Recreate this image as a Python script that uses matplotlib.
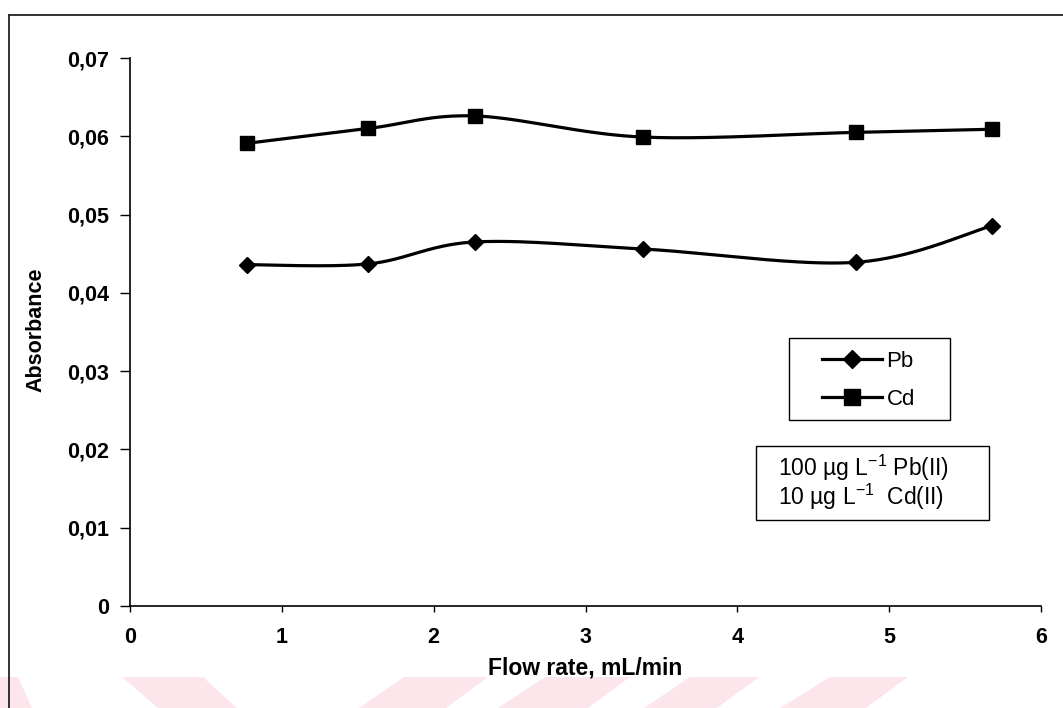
import numpy as np
import matplotlib
matplotlib.use("Agg")
from matplotlib import pyplot as plt
from matplotlib.patches import Polygon, Rectangle
from matplotlib.lines import Line2D

plt.rcParams['font.family'] = ['Liberation Sans', 'DejaVu Sans']
plt.rcParams['mathtext.default'] = 'regular'

flow_rate = [0.77, 1.57, 2.27, 3.38, 4.78, 5.68]  # mL/min
pb_abs = [0.0436, 0.0437, 0.0465, 0.0456, 0.0439, 0.0486]
cd_abs = [0.0591, 0.0610, 0.0626, 0.0599, 0.0605, 0.0609]
y_ticks = [0, 0.01, 0.02, 0.03, 0.04, 0.05, 0.06, 0.07]
x_ticks = [0, 1, 2, 3, 4, 5, 6]


def smooth(x, y, n=40):
    # excel-like smoothed line (bezier, 1/6 tension)
    x = np.asarray(x, float)
    y = np.asarray(y, float)
    px = np.concatenate([[x[0]], x, [x[-1]]])
    py = np.concatenate([[y[0]], y, [y[-1]]])
    t = np.linspace(0, 1, n)
    xs, ys = [], []
    for i in range(1, len(px) - 2):
        p0 = np.array([px[i], py[i]])
        p3 = np.array([px[i + 1], py[i + 1]])
        p1 = p0 + (p3 - np.array([px[i - 1], py[i - 1]])) / 6
        p2 = p3 - (np.array([px[i + 2], py[i + 2]]) - p0) / 6
        b = ((1 - t) ** 3)[:, None] * p0 + (3 * (1 - t) ** 2 * t)[:, None] * p1 \
            + (3 * (1 - t) * t ** 2)[:, None] * p2 + (t ** 3)[:, None] * p3
        xs.append(b[:, 0])
        ys.append(b[:, 1])
    return np.concatenate(xs), np.concatenate(ys)


W, H = 1063, 708
fig = plt.figure(figsize=(W / 100, H / 100), dpi=100)


def fx(px):
    return px / W


def fy(py):
    return 1 - py / H


# faint pink watermark stripes at the bottom
pink = '#fde6eb'
stripes = [
    [(0, 677), (18, 677), (32, 708), (0, 708)],
    [(122, 677), (203, 677), (237, 708), (158, 708)],
    [(404, 677), (488, 677), (446, 708), (359, 708)],
    [(545, 677), (630, 677), (588, 708), (498, 708)],
    [(690, 677), (759, 677), (717, 708), (644, 708)],
    [(830, 677), (908, 677), (866, 708), (780, 708)],
]
for s in stripes:
    fig.patches.append(Polygon([(fx(a), fy(b)) for a, b in s], closed=True,
                               transform=fig.transFigure, facecolor=pink,
                               edgecolor='none', zorder=0))

# outer frame lines (top and left)
fig.add_artist(Line2D([fx(9), 1], [fy(15), fy(15)], color='#222222', lw=1.3,
                      transform=fig.transFigure))
fig.add_artist(Line2D([fx(9), fx(9)], [fy(15), 0], color='#222222', lw=1.3,
                      transform=fig.transFigure))

ax = fig.add_axes([fx(130), fy(606), 911 / W, 548 / H])
ax.patch.set_alpha(0)

sx, sy = smooth(flow_rate, pb_abs)
ax.plot(sx, sy, color='black', lw=2.3)
ax.plot(flow_rate, pb_abs, 'D', color='black', ms=8)
sx, sy = smooth(flow_rate, cd_abs)
ax.plot(sx, sy, color='black', lw=2.3)
ax.plot(flow_rate, cd_abs, 's', color='black', ms=10.5)

ax.set_xlim(0, 6)
ax.set_ylim(0, 0.07)
ax.set_xticks(x_ticks)
ax.set_yticks(y_ticks)
ax.set_yticklabels(['0' if v == 0 else ('%.2f' % v).replace('.', ',') for v in y_ticks])
ax.tick_params(axis='y', direction='out', length=7, width=1, pad=8, labelsize=15.5)
ax.tick_params(axis='x', direction='out', length=4, width=1, pad=11, labelsize=15.5)
for lab in ax.get_xticklabels() + ax.get_yticklabels():
    lab.set_fontweight('bold')
for side in ['top', 'right']:
    ax.spines[side].set_visible(False)
for side in ['left', 'bottom']:
    ax.spines[side].set_linewidth(1.2)

fig.text(fx(36), fy(330), 'Absorbance', rotation=90, ha='center', va='center',
         fontsize=15.5, fontweight='bold')
fig.text(fx(585), fy(668), 'Flow rate, mL/min', ha='center', va='center',
         fontsize=16.5, fontweight='bold')

# legend
fig.patches.append(Rectangle((fx(789), fy(420)), 161 / W, 82 / H, transform=fig.transFigure,
                             facecolor='white', edgecolor='black', lw=1.0, zorder=3))
pb_h = Line2D([], [], color='black', lw=2.3, marker='D', ms=9)
cd_h = Line2D([], [], color='black', lw=2.3, marker='s', ms=11)
leg = fig.legend([pb_h, cd_h], ['Pb', 'Cd'], loc='upper left',
                 bbox_to_anchor=(fx(822), fy(351)), fontsize=16,
                 frameon=False, handlelength=2.7, handletextpad=0.2, borderpad=0,
                 labelspacing=0.75, borderaxespad=0)
leg.set_zorder(4)

# conditions box
fig.patches.append(Rectangle((fx(756), fy(520)), 233 / W, 74 / H, transform=fig.transFigure,
                             facecolor='white', edgecolor='black', lw=1.0, zorder=3))
fig.text(fx(778), fy(468), '100 \u00b5g L$^{-1}$ Pb(II)', ha='left', va='center',
         fontsize=16.5, zorder=4)
fig.text(fx(778), fy(497), '10 \u00b5g L$^{-1}$  Cd(II)', ha='left', va='center',
         fontsize=16.5, zorder=4)

fig.savefig('out.png', dpi=100)
